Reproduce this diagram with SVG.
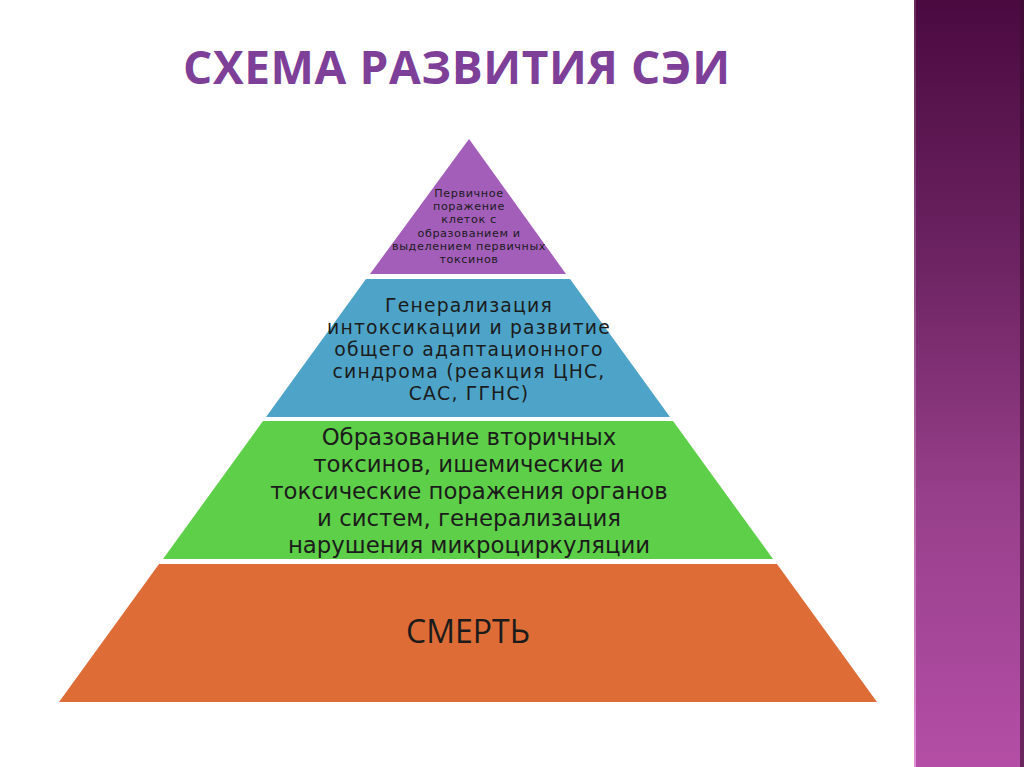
<svg xmlns="http://www.w3.org/2000/svg" width="1024" height="767" viewBox="0 0 1024 767">
<defs>
<linearGradient id="bar" x1="0" y1="0" x2="0" y2="1">
<stop offset="0" stop-color="#4a0a40"/>
<stop offset="0.35" stop-color="#6e2463"/>
<stop offset="0.65" stop-color="#973f8a"/>
<stop offset="1" stop-color="#b44ea6"/>
</linearGradient>
<linearGradient id="edge" x1="0" y1="0" x2="0" y2="1">
<stop offset="0" stop-color="#6a2a5e"/>
<stop offset="1" stop-color="#e090d8"/>
</linearGradient>
<style>
.t{font-family:"DejaVu Sans","Open Sans",sans-serif;fill:#1b1b1b;text-anchor:middle}
.s{font-family:"Open Sans","Noto Sans",sans-serif;fill:#1b1b1b;text-anchor:middle}
.title{font-family:"Open Sans","DejaVu Sans",sans-serif;font-weight:bold;fill:#7e3f98;font-size:46px;letter-spacing:3px}
</style>
</defs>
<rect width="1024" height="767" fill="#ffffff"/>
<g id="sidebar">
<rect x="914" y="0" width="110" height="767" fill="url(#bar)"/>
<rect x="914" y="0" width="2" height="767" fill="url(#edge)"/>
<rect x="1020" y="0" width="4" height="767" fill="#3a0a30" opacity="0.6"/>
</g>
<g id="title">
<text class="title" x="183" y="84" textLength="550" lengthAdjust="spacing">СХЕМА  РАЗВИТИЯ  СЭИ</text>
</g>
<g id="tier1">
<polygon points="469,139 566,274 370,274" fill="#a35eba"/>
<g class="t" font-size="11.2" letter-spacing="0.6">
<text x="469" y="197">Первичное</text>
<text x="469" y="210.2">поражение</text>
<text x="469" y="223.4">клеток с</text>
<text x="469" y="236.6">образованием и</text>
<text x="469" y="249.8">выделением первичных</text>
<text x="469" y="263">токсинов</text>
</g>
</g>
<g id="tier2">
<polygon points="366,279 570,279 670,417 266,417" fill="#4ea4c8"/>
<g class="t" font-size="18.8" letter-spacing="1.2">
<text x="469" y="312">Генерализация</text>
<text x="469" y="334">интоксикации и развитие</text>
<text x="469" y="356">общего адаптационного</text>
<text x="469" y="378">синдрома (реакция ЦНС,</text>
<text x="469" y="400">САС, ГГНС)</text>
</g>
</g>
<g id="tier3">
<polygon points="263,421 673,421 773,559 163,559" fill="#5ecf48"/>
<g class="t" font-size="22.8">
<text x="469" y="445">Образование вторичных</text>
<text x="469" y="472">токсинов, ишемические и</text>
<text x="469" y="499">токсические поражения органов</text>
<text x="469" y="526">и систем, генерализация</text>
<text x="469" y="553">нарушения микроциркуляции</text>
</g>
</g>
<g id="tier4">
<polygon points="159,564 777,564 877,702 59,702" fill="#de6c36"/>
<text class="s" font-size="32" x="468" y="643">СМЕРТЬ</text>
</g>
<g id="connectors"/>
</svg>
